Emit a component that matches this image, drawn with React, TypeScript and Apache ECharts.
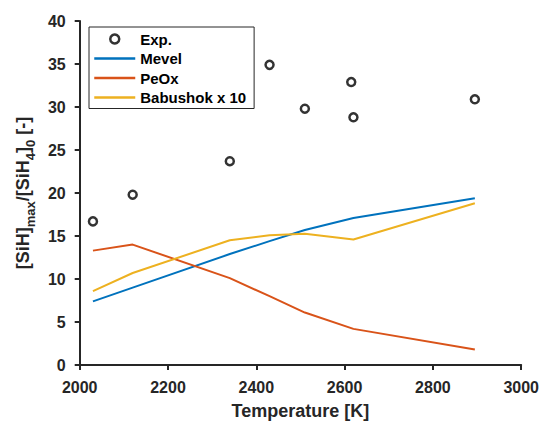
import React, { useEffect, useRef } from "react";
import * as echarts from "echarts";

const expT = [2030, 2120, 2340, 2430, 2510, 2615, 2620, 2895];
const expV = [16.7, 19.8, 23.7, 34.9, 29.8, 32.9, 28.8, 30.9];
const modelT = [2030, 2120, 2340, 2430, 2510, 2620, 2895];
const mevel = [7.4, 9.0, 12.9, 14.4, 15.7, 17.1, 19.4];
const peox = [13.3, 14.0, 10.1, 8.0, 6.1, 4.2, 1.8];
const babushok = [8.6, 10.7, 14.5, 15.1, 15.25, 14.6, 18.8];
const seriesNames = ["Exp.", "Mevel", "PeOx", "Babushok x 10"];
const colors = ["#000000", "#0072BD", "#D95319", "#EDB120"];

const FONT = "'Liberation Sans', Arial, Helvetica, sans-serif";
const AX = "#262626";
const HIDDEN = { color: "rgba(0,0,0,0)", borderColor: "rgba(0,0,0,0)", borderWidth: 0, opacity: 0 };

export default function App() {
  const ref = useRef<HTMLDivElement>(null);
  useEffect(() => {
    const chart = echarts.init(ref.current!, null, { renderer: "svg" });
    const pair = (xs: number[], ys: number[]) => xs.map((x, i) => [x, ys[i]]);
    const lineSeries = (name: string, ys: number[], color: string) => ({
      name,
      type: "line",
      data: pair(modelT, ys),
      symbol: "none",
      lineStyle: { color, width: 2 },
      itemStyle: { color },
    });
    chart.setOption({
      animation: false,
      backgroundColor: "#ffffff",
      textStyle: { fontFamily: FONT },
      grid: { left: 67, right: 20, top: 21, bottom: 55, containLabel: false },
      legend: {
        orient: "vertical",
        left: 89,
        top: 27,
        padding: [3, 8, 2, 4],
        itemGap: 1.5,
        itemWidth: 41,
        itemHeight: 9,
        borderColor: AX,
        borderWidth: 1,
        borderRadius: 0,
        backgroundColor: "#ffffff",
        textStyle: { fontFamily: FONT, fontSize: 15, fontWeight: "bold", color: "#000", lineHeight: 18 },
        data: [
          { name: seriesNames[0], icon: "circle", itemStyle: { color: "#ffffff", borderColor: "#000", borderWidth: 2.5 } },
          { name: seriesNames[1], itemStyle: HIDDEN, lineStyle: { color: colors[1], width: 2.5 } },
          { name: seriesNames[2], itemStyle: HIDDEN, lineStyle: { color: colors[2], width: 2.5 } },
          { name: seriesNames[3], itemStyle: HIDDEN, lineStyle: { color: colors[3], width: 2.5 } },
        ],
      },
      xAxis: {
        type: "value",
        min: 2000,
        max: 3000,
        interval: 200,
        splitLine: { show: false },
        axisLine: { onZero: false, lineStyle: { color: AX, width: 2 } },
        axisTick: { show: true, length: 5, lineStyle: { color: AX, width: 2 } },
        axisLabel: {
          margin: 14,
          color: AX,
          fontSize: 16,
          fontWeight: "bold",
          fontFamily: FONT,
          formatter: (v: number) => String(v),
        },
        name: "Temperature [K]",
        nameLocation: "middle",
        nameGap: 37,
        nameTextStyle: { color: AX, fontSize: 18, fontWeight: "bold", fontFamily: FONT },
      },
      yAxis: {
        type: "value",
        min: 0,
        max: 40,
        interval: 5,
        splitLine: { show: false },
        axisLine: { show: true, onZero: false, lineStyle: { color: AX, width: 2 } },
        axisTick: { show: true, length: 5, lineStyle: { color: AX, width: 2 } },
        axisLabel: { margin: 14, color: AX, fontSize: 16, fontWeight: "bold", fontFamily: FONT },
        name: "{m|[SiH]}{s|max}{m|/[SiH}{s|4}{m|]}{s|0}{m| [-]}",
        nameLocation: "middle",
        nameRotate: 90,
        nameGap: 40,
        nameTextStyle: {
          color: AX,
          fontFamily: FONT,
          rich: {
            m: { fontSize: 18, fontWeight: "bold", color: AX, fontFamily: FONT, lineHeight: 26 },
            s: { fontSize: 13, fontWeight: "bold", color: AX, fontFamily: FONT, lineHeight: 26, padding: [16, 0, 0, 0] },
          },
        },
      },
      series: [
        {
          name: seriesNames[0],
          type: "scatter",
          data: pair(expT, expV),
          symbol: "circle",
          symbolSize: 8,
          itemStyle: { color: "#ffffff", borderColor: colors[0], borderWidth: 2.5 },
          z: 5,
        },
        lineSeries(seriesNames[1], mevel, colors[1]),
        lineSeries(seriesNames[2], peox, colors[2]),
        lineSeries(seriesNames[3], babushok, colors[3]),
      ],
    });
    return () => chart.dispose();
  }, []);
  return <div ref={ref} style={{ width: 542, height: 425, position: "fixed", left: 0, top: 0 }} />;
}
